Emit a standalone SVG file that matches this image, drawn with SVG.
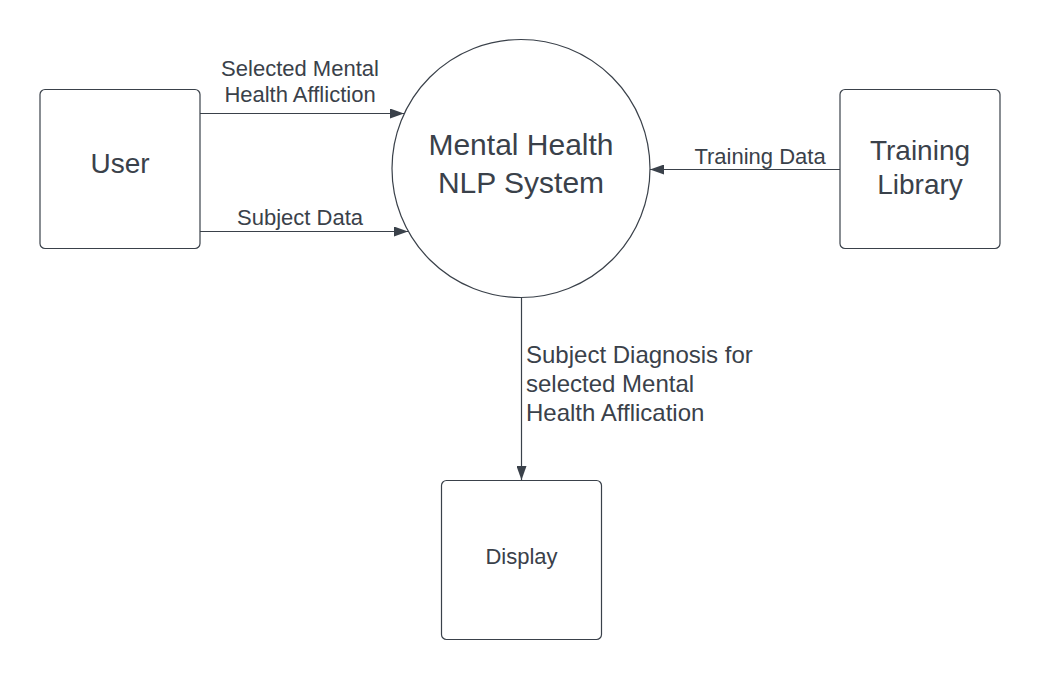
<svg xmlns="http://www.w3.org/2000/svg" width="1040" height="680" viewBox="0 0 1040 680">
<style>
.box{fill:#ffffff;stroke:#3a414a;stroke-width:1.2}
.edge{fill:none;stroke:#3a414a;stroke-width:1.2}
text{font-family:"Liberation Sans",Arial,sans-serif;fill:#3a414a}
.big{font-size:28px;text-anchor:middle}
.lbl{font-size:22px;text-anchor:middle}
</style>
<defs>
<marker id="arr" viewBox="0 0 14 10" refX="14" refY="5" markerWidth="14" markerHeight="10" markerUnits="userSpaceOnUse" orient="auto">
<path d="M0,0 L14,5 L0,10 Z" fill="#3a414a"/>
</marker>
</defs>
<rect width="1040" height="680" fill="#ffffff"/>
<g id="connectors">
<line class="edge" x1="200" y1="113.5" x2="404" y2="113.5" marker-end="url(#arr)"/>
<line class="edge" x1="200" y1="231.5" x2="408" y2="231.5" marker-end="url(#arr)"/>
<line class="edge" x1="840" y1="169.5" x2="650" y2="169.5" marker-end="url(#arr)"/>
<line class="edge" x1="521.5" y1="297" x2="521.5" y2="480" marker-end="url(#arr)"/>
<text class="lbl" x="300" y="76">Selected Mental</text>
<text class="lbl" x="300" y="102">Health Affliction</text>
<text class="lbl" x="300" y="225">Subject Data</text>
<text class="lbl" x="760" y="164">Training Data</text>
<text x="526" y="363" style="font-size:24px">Subject Diagnosis for</text>
<text x="526" y="392" style="font-size:24px">selected Mental</text>
<text x="526" y="421" style="font-size:24px">Health Afflication</text>
</g>
<g id="user">
<rect class="box" x="40" y="89.5" width="160" height="159" rx="5"/>
<text class="big" x="120" y="173">User</text>
</g>
<g id="system">
<circle class="box" cx="521" cy="168.5" r="129"/>
<text x="521" y="155" style="font-size:30px;text-anchor:middle">Mental Health</text>
<text x="521" y="192.5" style="font-size:30px;text-anchor:middle">NLP System</text>
</g>
<g id="training-library">
<rect class="box" x="840" y="89.5" width="160" height="159" rx="5"/>
<text class="big" x="920" y="160">Training</text>
<text class="big" x="920" y="193.5">Library</text>
</g>
<g id="display">
<rect class="box" x="441.5" y="480.5" width="160" height="159" rx="5"/>
<text class="lbl" x="521.5" y="564">Display</text>
</g>
</svg>
